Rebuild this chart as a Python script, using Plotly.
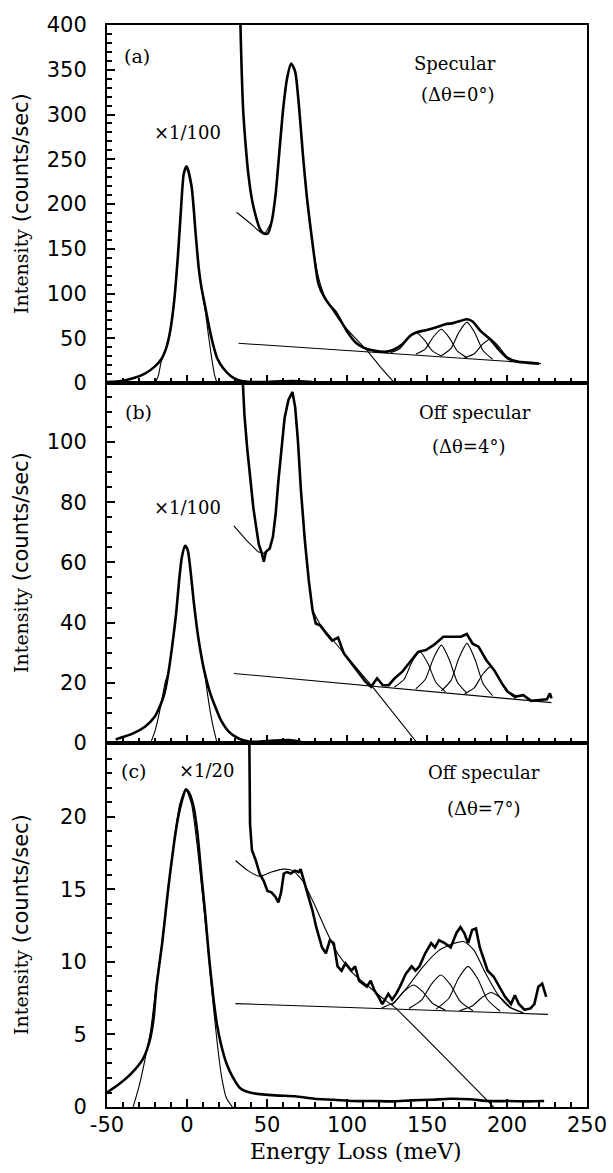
import plotly.graph_objects as go
from plotly.subplots import make_subplots

# ---------------- Panel (a): specular ----------------
a_el_x = [-50, -41, -33.7, -26.3, -20.2, -16.1, -12.9, -10.5, -8, -5.6, -3.7, -2, -0.2,
          2.9, 5.4, 7.3, 9, 11.5, 13.9, 16.3, 18.8, 22.4, 27.3, 32.2, 39.5, 54, 66, 78.5]
a_el_y = [1.1, 2.2, 5.2, 10.5, 18.3, 26.5, 39.6, 58, 92, 144, 196, 234, 242,
          219, 167, 129, 107, 84, 62, 43, 28, 17, 7.8, 3, 1.1, 1.5, 2.2, 1.1]
a_elfit_x = [-19.8, -17.8, -16.1, -12.9, -10.5, -8, -5.6, -3.7, -2, -0.2,
             2.9, 5.4, 7.3, 9, 11.5, 13.5, 15.5, 17.2, 18.8]
a_elfit_y = [0, 9, 24, 39.6, 58, 92, 144, 196, 234, 242,
             219, 167, 129, 107, 80, 52, 27, 9, 0]
a_loss_x = [33, 33.4, 34.1, 35.1, 36.6, 38.3, 40.7, 43.2, 45.6, 48, 50.5, 53, 55.4, 57.8,
            60.2, 62.7, 65.1, 67.6, 70, 72.4, 74.9, 78.5, 82.2, 85.9, 89.5, 93.2, 95.6,
            100.5, 105.4, 110.2, 117.6, 124.9, 129.8, 134.6, 139.5, 143.2, 149.3, 155.4,
            161.5, 166.3, 171.2, 174.9, 178.5, 183.4, 189.5, 195.6, 200.5, 206.6, 220]
a_loss_y = [430, 400, 353, 305, 267, 234, 204, 185, 172, 167, 167, 181, 211, 260,
            308, 342, 357, 348, 309, 256, 208, 155, 110.5, 95.6, 86.3, 78.8, 71.3,
            56.4, 45.2, 39.6, 35.9, 35.1, 37.7, 43.3, 52.7, 56.4, 59, 62,
            65.7, 66.9, 69.5, 71.3, 68.7, 58.3, 48.9, 35.9, 27.6, 23.9, 21.7]
a_fit_x = [31, 39.5, 48, 53, 55.4, 57.8, 60.2, 62.7, 65.1, 67.6, 70, 72.4, 74.9, 78.5,
           82.2, 85.9, 90.7, 95.6, 102.9, 112.7, 121.2, 129.8]
a_fit_y = [190.8, 178.5, 166.6, 181.5, 211, 260, 308, 342, 357, 348, 309, 256, 208, 155,
           118, 97.5, 82.5, 69.5, 54.5, 35.9, 17.2, 0]
a_base_x = [32.2, 221.2]
a_base_y = [44.4, 21.7]
a_c1_x = [127.2, 133.2, 138.2, 143.2, 148.2, 153.2, 159.2]
a_c1_y = [33.8, 38.6, 49.7, 56.4, 48.5, 36.2, 29.9]
a_c2_x = [143, 149, 154, 159, 164, 169, 175]
a_c2_y = [32.0, 38.1, 51.7, 60.1, 50.5, 35.7, 28.2]
a_c3_x = [159, 165, 170, 175, 180, 185, 191]
a_c3_y = [30.4, 38.7, 56.8, 68, 55.6, 36.3, 26.5]
a_c4_x = [173.5, 179.5, 184.5, 189.5, 194.5, 199.5, 205.5]
a_c4_y = [28.1, 32.6, 42.8, 49, 41.6, 30.2, 24.3]

# ---------------- Panel (b): off specular 4 deg ----------------
b_el_x = [-44.6, -33.7, -26.3, -20.2, -16.6, -14.1, -11.7, -9.3, -6.8, -4.9, -3.2, -1.2,
          0.5, 2.4, 4.1, 6.1, 8.3, 10.7, 13.9, 17.6, 21.2, 26.1, 32.2, 39.5, 54.1, 63.9, 71.2]
b_el_y = [1.2, 3.2, 5.4, 8.7, 12.6, 16.5, 23.1, 32, 43, 54.1, 61.8, 65.5,
          64, 56.3, 47.5, 38.6, 30.9, 24.2, 17.6, 12.1, 7.6, 3.8, 1.5, 0.4, 0.8, 1, 0.4]
b_elfit_x = [-22.7, -20, -17.5, -15.5, -13.5, -11.7, -9.3, -6.8, -4.9, -3.2, -1.2,
             0.5, 2.4, 4.1, 6.1, 8.3, 10.7, 12.5, 14.5, 16.5, 18.8]
b_elfit_y = [0, 4, 9.5, 15, 20.5, 23.1, 32, 43, 54.1, 61.8, 65.5,
             64, 56.3, 47.5, 38.6, 30.9, 24.2, 17.5, 10.5, 5, 0]
b_loss_x = [34.4, 35.9, 37.6, 39.5, 41.5, 43.2, 44.9, 46.8, 48, 49.3, 51.7, 53.7, 55.4,
            57.1, 59, 61, 63.4, 65.9, 67.6, 69.3, 71.2, 73.7, 76.1, 78.5, 80.5, 83.4,
            87, 90.7, 94.4, 98, 102.9, 107.8, 111.5, 115.1, 118.8, 122.4, 126.1, 129.8,
            134.6, 139.5, 144.4, 149.3, 154.1, 160.2, 166.3, 171.2, 174.9, 178.5, 182.2,
            187.1, 192, 196.8, 200.5, 205.4, 210.2, 215.1, 220, 224.9, 226.8, 227.8]
b_loss_y = [125, 109, 98, 87, 78, 71.8, 66, 63, 60.2, 63.5, 64.6, 68.5, 76,
            87, 98, 108, 114, 116.6, 111.6, 100.6, 84, 67, 54, 44, 39.7, 39,
            36.4, 34, 35, 29.8, 26.4, 23, 20.4, 18.7, 21.5, 19.2, 19.2, 21.5,
            23.7, 27, 30.3, 30.9, 32.5, 35.3, 35.3, 35.3, 36.2, 33, 32,
            27.5, 24.2, 19.8, 17, 15.4, 15.9, 14, 14.3, 14.5, 16.5, 14.8]
b_fit_x = [29.3, 37.1, 44.4, 48, 51.7, 53.7, 55.4, 57.1, 59, 61, 63.4, 65.9, 67.6, 69.3,
           71.2, 73.7, 76.1, 78.5, 83.4, 95.6, 115.1, 143.9]
b_fit_y = [72.1, 67.4, 63.5, 63, 64.6, 68.5, 76, 87, 98, 108, 114, 116.6, 111.6, 100.6,
           84, 67, 54, 44, 39.2, 31.4, 19.2, 0]
b_base_x = [29.3, 227.8]
b_base_y = [23.1, 13.4]
b_c1_x = [129.6, 135.6, 140.6, 145.6, 150.6, 155.6, 161.6]
b_c1_y = [18.6, 21.1, 26.9, 30.3, 26.4, 20.1, 17.0]
b_c2_x = [143, 149, 154, 159, 164, 169, 175]
b_c2_y = [18.0, 21.2, 28.1, 32.5, 27.6, 20.2, 16.5]
b_c3_x = [159, 165, 170, 175, 180, 185, 191]
b_c3_y = [17.3, 20.8, 28.3, 33.1, 27.8, 19.8, 15.7]
b_c4_x = [173.5, 179.5, 184.5, 189.5, 194.5, 199.5, 205.5]
b_c4_y = [16.4, 18.3, 22.6, 25.3, 22.1, 17.3, 14.8]

# ---------------- Panel (c): off specular 7 deg ----------------
c_el_x = [-50, -42.2, -34.9, -27.6, -23.5, -21, -19.1, -15.4, -11.8, -8.1, -5.7,
          -3.2, -0.8, 1.6, 4.1, 6.5, 8.9, 11.4, 13.8, 16.2, 18.7, 21.1, 24.7, 28.4, 33.3,
          40.6, 55.2, 67.4, 79.5, 91.7, 103.9, 116, 128.2, 140.4, 152.6, 164.8, 176.9,
          189.1, 201.3, 213.4, 223.2]
c_el_y = [1.0, 1.6, 2.3, 3.3, 4.5, 6.0, 8.3, 11.4, 15.0, 18.2, 19.9,
          21.1, 21.9, 21.6, 20.7, 18.9, 16.1, 13.3, 10.3, 7.8, 5.7, 4.4, 3.0, 2.1, 1.3,
          0.97, 0.8, 0.74, 0.57, 0.5, 0.41, 0.41, 0.39, 0.46, 0.5, 0.57, 0.53,
          0.41, 0.41, 0.39, 0.41]
c_elfit_x = [-33.7, -30, -26.4, -22.7, -19.1, -15.4, -11.8, -8.1, -4.5, -0.8,
             2.8, 6.5, 9.4, 12.6, 15.7, 18.7, 21.6, 24.7, 28.4]
c_elfit_y = [0, 1.4, 3.2, 5.3, 8.5, 11.5, 15.1, 18.3, 20.9, 21.9,
             20.9, 17.9, 14.9, 11.5, 7.8, 4.6, 2.1, 0.6, 0]
c_loss_x = [38.9, 39.4, 40.6, 43, 45.4, 47.9, 50.3, 52.8, 55.2, 57.1, 58.8, 60.5, 62.5,
            64.9, 67.4, 69.8, 71, 73.4, 75.9, 78.3, 80.8, 84.4, 86.8, 89.3, 91.7, 94.1,
            96.6, 99, 102.7, 105.1, 107.5, 110, 112.4, 114.8, 117.3, 119.7, 122.1, 125.8,
            128.2, 130.7, 133.1, 136.8, 140.4, 142.8, 145.3, 148.9, 152.6, 155, 157.5,
            161.1, 164.8, 168.4, 170.9, 173.3, 175.7, 178.2, 180.6, 183, 185.5, 187.9,
            191.6, 195.2, 198.8, 202.5, 204.9, 207.4, 211, 214.7, 217.1, 219.6, 222, 224.5]
c_loss_y = [26, 19.5, 17.7, 17, 16.1, 15.6, 14.9, 14.8, 14.5, 14.1, 14.8, 16.1, 16.2,
            16.1, 16.3, 16.2, 16.4, 15.4, 14.5, 13.6, 12.4, 11.0, 10.6, 11.5, 11.3, 9.7,
            9.4, 9.9, 9.4, 9.7, 8.7, 8.5, 8.3, 8.7, 8.0, 7.6, 7.1, 7.8,
            7.4, 7.8, 8.3, 9.2, 9.7, 9.4, 9.7, 10.6, 11.3, 11.0, 11.5,
            11.3, 11.0, 12.0, 12.4, 12.0, 11.3, 12.2, 12.3, 11.0, 10.1, 9.4,
            9.0, 8.3, 7.6, 7.1, 7.7, 7.1, 6.7, 6.8, 7.1, 8.3, 8.5, 7.6]
c_fit_x = [30.3, 38.1, 45.4, 52.8, 60.1, 66.1, 72.2, 79.5, 86.8, 94.1, 103.9, 113.6,
           123.4, 129.5, 191.6]
c_fit_y = [17.0, 16.3, 15.9, 16.2, 16.4, 16.3, 15.6, 14.0, 12.2, 10.6, 9.2, 8.3,
           7.4, 6.9, 0]
c_base_x = [30.3, 225.6]
c_base_y = [7.13, 6.39]
c_env_x = [128, 138, 147.7, 157.5, 167.2, 173.3, 179.4, 186.7, 194, 201.3, 208.6]
c_env_y = [7.0, 8.3, 9.7, 10.8, 11.3, 11.4, 10.8, 9.2, 7.8, 6.9, 6.55]
c_c1_x = [121.6, 129.6, 135.6, 141.6, 147.6, 153.6, 161.6]
c_c1_y = [6.83, 7.23, 7.97, 8.41, 7.92, 7.14, 6.68]
c_c2_x = [138.7, 146.7, 152.7, 158.7, 164.7, 170.7, 178.7]
c_c2_y = [6.79, 7.38, 8.46, 9.1, 8.42, 7.29, 6.64]
c_c3_x = [155.7, 163.7, 169.7, 175.7, 181.7, 187.7, 195.7]
c_c3_y = [6.75, 7.5, 8.88, 9.7, 8.84, 7.41, 6.6]
c_c4_x = [170.3, 178.3, 184.3, 190.3, 196.3, 202.3, 210.3]
c_c4_y = [6.64, 6.96, 7.55, 7.9, 7.5, 6.87, 6.49]

# ---------------- tick labels ----------------
x_tick_vals = [-50, 0, 50, 100, 150, 200, 250]
x_tick_text = ["-50", "0", "50", "100", "150", "200", "250"]
a_tick_vals = [0, 50, 100, 150, 200, 250, 300, 350, 400]
b_tick_vals = [0, 20, 40, 60, 80, 100]
c_tick_vals = [0, 5, 10, 15, 20]

SERIF = "DejaVu Serif"
SANS = "DejaVu Sans"
THICK = 2.6
THIN = 1.1

fig = make_subplots(rows=3, cols=1, shared_xaxes=True, vertical_spacing=0)


def add_line(x, y, row, width, shape="spline"):
    fig.add_trace(go.Scatter(x=x, y=y, mode="lines",
                             line=dict(color="black", width=width, shape=shape,
                                       smoothing=0.6 if shape == "spline" else None),
                             hoverinfo="skip", showlegend=False), row=row, col=1)


# panel a
add_line(a_el_x, a_el_y, 1, THICK)
add_line(a_elfit_x, a_elfit_y, 1, THIN)
add_line(a_base_x, a_base_y, 1, THIN, "linear")
for cx, cy in [(a_c1_x, a_c1_y), (a_c2_x, a_c2_y), (a_c3_x, a_c3_y), (a_c4_x, a_c4_y)]:
    add_line(cx, cy, 1, THIN)
add_line(a_fit_x, a_fit_y, 1, THIN)
add_line(a_loss_x, a_loss_y, 1, THICK)

# panel b
add_line(b_el_x, b_el_y, 2, THICK)
add_line(b_elfit_x, b_elfit_y, 2, THIN)
add_line(b_base_x, b_base_y, 2, THIN, "linear")
for cx, cy in [(b_c1_x, b_c1_y), (b_c2_x, b_c2_y), (b_c3_x, b_c3_y), (b_c4_x, b_c4_y)]:
    add_line(cx, cy, 2, THIN)
add_line(b_fit_x, b_fit_y, 2, THIN, "linear")
add_line(b_loss_x, b_loss_y, 2, THICK, "linear")

# panel c
add_line(c_el_x, c_el_y, 3, THICK)
add_line(c_elfit_x, c_elfit_y, 3, THIN)
add_line(c_base_x, c_base_y, 3, THIN, "linear")
for cx, cy in [(c_c1_x, c_c1_y), (c_c2_x, c_c2_y), (c_c3_x, c_c3_y), (c_c4_x, c_c4_y)]:
    add_line(cx, cy, 3, THIN)
add_line(c_env_x, c_env_y, 3, THIN)
add_line(c_fit_x, c_fit_y, 3, THIN)
add_line(c_loss_x, c_loss_y, 3, THICK, "linear")

# axes
top, bottom = 25, 1107
H = 1173
plot_h = bottom - top
b_ab, b_bc = 383, 743
dom_a = [(bottom - b_ab) / plot_h, 1.0]
dom_b = [(bottom - b_bc) / plot_h, (bottom - b_ab) / plot_h]
dom_c = [0.0, (bottom - b_bc) / plot_h]

common_x = dict(range=[-50, 250], showline=True, linewidth=2, linecolor="black",
                mirror=True, ticks="inside", ticklen=8, tickwidth=1.5, tickcolor="black",
                tickmode="array", tickvals=x_tick_vals, ticktext=x_tick_text,
                showgrid=False, zeroline=False,
                minor=dict(tickmode="linear", tick0=0, dtick=10, ticks="inside",
                           ticklen=5, tickwidth=1.5, tickcolor="black", showgrid=False),
                tickfont=dict(family=SANS, size=21, color="black"))
for r in (1, 2, 3):
    fig.update_xaxes(common_x, row=r, col=1)
fig.update_xaxes(showticklabels=False, row=1, col=1)
fig.update_xaxes(showticklabels=False, row=2, col=1)
fig.update_xaxes(showticklabels=True, ticklabelstandoff=-2, row=3, col=1)

common_y = dict(showline=True, linewidth=2, linecolor="black", mirror=True,
                ticks="inside", ticklen=8, tickwidth=1.5, tickcolor="black",
                tickmode="array", showgrid=False, zeroline=False,
                ticklabelstandoff=14,
                tickfont=dict(family=SANS, size=21, color="black"))
fig.update_yaxes(common_y, range=[0, 400], tickvals=a_tick_vals, domain=dom_a,
                 minor=dict(tickmode="linear", tick0=0, dtick=10, ticks="inside", ticklen=5,
                            tickwidth=1.5, tickcolor="black", showgrid=False), row=1, col=1)
fig.update_yaxes(common_y, range=[0, 119.6], tickvals=b_tick_vals, domain=dom_b,
                 minor=dict(tickmode="linear", tick0=0, dtick=5, ticks="inside", ticklen=5,
                            tickwidth=1.5, tickcolor="black", showgrid=False), row=2, col=1)
fig.update_yaxes(common_y, range=[0, 25.1], tickvals=c_tick_vals, domain=dom_c,
                 minor=dict(tickmode="linear", tick0=0, dtick=1, ticks="inside", ticklen=5,
                            tickwidth=1.5, tickcolor="black", showgrid=False), row=3, col=1)

ann = []


def txt(text, x, y, xref, yref, size=18, family=SERIF, angle=0, xanchor="center",
        yanchor="middle"):
    ann.append(dict(text=text, x=x, y=y, xref=xref, yref=yref, showarrow=False,
                    xanchor=xanchor, yanchor=yanchor, textangle=angle,
                    font=dict(family=family, size=size, color="black")))


# panel labels and notes
txt("(a)", -31, 365, "x", "y", size=19)
txt("×1/100", 0, 280, "x", "y")
txt("Specular", 167.5, 357, "x", "y")
txt("(Δθ=0°)", 169, 322, "x", "y")

txt("(b)", -30.6, 110, "x2", "y2", size=19)
txt("×1/100", 0, 78.2, "x2", "y2")
txt("Off specular", 179.8, 109.7, "x2", "y2")
txt("(Δθ=4°)", 176, 98.4, "x2", "y2")

txt("(c)", -33.4, 23.2, "x3", "y3", size=19)
txt("×1/20", 12.2, 23.2, "x3", "y3")
txt("Off specular", 185.4, 23.1, "x3", "y3")
txt("(Δθ=7°)", 185.4, 20.6, "x3", "y3")

ytitle = ("<span style=\"font-size:19px\">Intensity</span> "
          "<span style=\"font-family:'DejaVu Sans'\">(counts/sec)</span>")
L, W = 107, 613 - 107 - 26
xt = (21 - L) / W
for dom in (dom_a, dom_b, dom_c):
    txt(ytitle, xt, (dom[0] + dom[1]) / 2, "paper", "paper", size=21, angle=-90)

txt("Energy Loss (meV)", (356 - L) / W, (bottom - 1151) / plot_h, "paper", "paper", size=22)

fig.update_layout(
    width=613, height=H,
    margin=dict(l=L, r=26, t=top, b=H - bottom, autoexpand=False),
    paper_bgcolor="white", plot_bgcolor="white",
    showlegend=False, annotations=ann,
)

fig.write_html(
    "out.html",
    config={"displayModeBar": False},
    post_script=("document.body.style.margin='0px';"
                 "document.body.style.padding='0px';"
                 "document.documentElement.style.overflow='hidden';"),
)
